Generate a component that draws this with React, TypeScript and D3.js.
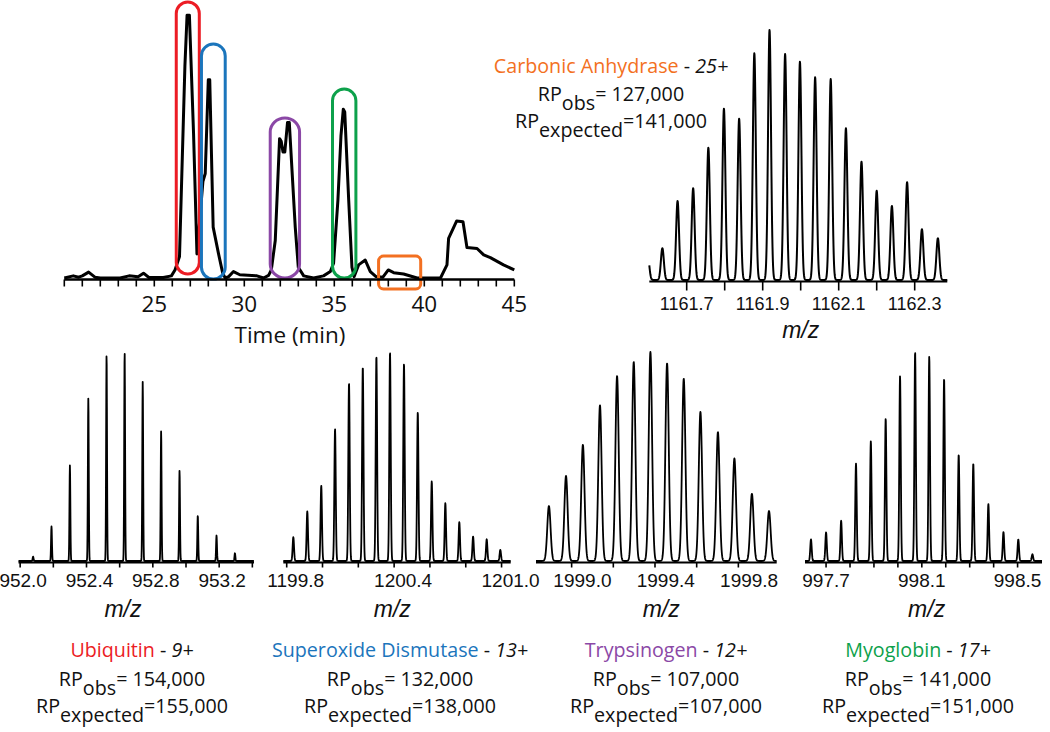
import React from 'react';
import * as d3 from 'd3';

// ---------- Chromatogram (time in min, relative intensity) ----------
const chromTime = [20.0, 20.5, 20.8, 21.0, 21.35, 21.7, 22.0, 23.1, 23.6, 24.1, 24.4, 24.7, 25.5, 25.95, 26.15, 26.4, 26.7, 26.82, 26.95, 27.18, 27.37, 27.7, 27.83, 28.0, 28.08, 28.27, 28.57, 28.8, 28.94, 29.13, 29.4, 29.75, 30.7, 31.07, 31.35, 31.5, 31.72, 31.96, 32.05, 32.15, 32.25, 32.4, 32.5, 32.83, 33.0, 33.3, 33.85, 34.4, 34.78, 34.96, 35.2, 35.37, 35.5, 35.58, 35.8, 35.98, 36.1, 36.35, 36.72, 37.0, 37.3, 37.7, 38.0, 38.3, 38.85, 39.6, 40.9, 41.26, 41.35, 41.8, 42.15, 42.37, 42.93, 43.3, 43.67, 44.4, 45.0];
const chromIntensity = [0, 0.8, 0.3, 0.8, 2.2, 0.3, 0, 0, 0.8, 0.5, 1.8, 0.2, 0.2, 0.8, 3, 8, 79, 98, 98, 54, 9, 36, 39, 74, 74, 19, 9, 1.8, 0, 0.5, 2.4, 1.2, 0.8, 0, 1, 3, 14, 52, 51, 47, 47, 58, 58, 19, 4, 0.8, 0, 0.8, 2.4, 5.5, 29, 53, 63, 62, 29, 4, 0.5, 4.9, 6.7, 2.4, 0.6, 0.3, 3, 2, 1.5, 0, 0, 4.9, 14.8, 21.3, 21, 11.4, 11, 8.6, 7.6, 4.9, 3];
const chromMinorTicks = [20, 21, 22, 23, 24, 25, 26, 27, 28, 29, 30, 31, 32, 33, 34, 35, 36, 37, 38, 39, 40, 41, 42, 43, 44, 45];
const chromLabels = [25, 30, 35, 40, 45];

// highlight boxes: time window and intensity window
const boxNames = ['Ubiquitin', 'Superoxide Dismutase', 'Trypsinogen', 'Myoglobin', 'Carbonic Anhydrase'];
const boxColors = ['#ec1c24', '#1b75bc', '#8b48a6', '#0da14b', '#f37021'];
const boxT0 = [26.22, 27.62, 31.44, 34.9, 37.46];
const boxT1 = [27.5, 28.94, 33.07, 36.2, 39.8];
const boxTop = [103, 87.3, 59.7, 70.5, 8.2];
const boxBottom = [1.5, -0.4, 0, 0, -4.1];

// ---------- Spectra: peak centroids (m/z) and relative heights ----------
const ubqMz = [952.078, 952.189, 952.300, 952.411, 952.521, 952.630, 952.739, 952.850, 952.961, 953.071, 953.184, 953.295];
const ubqInt = [2.1, 16.5, 45.7, 77.8, 98.9, 100, 85.8, 62.1, 43.3, 21.8, 12.2, 3.7];
const ubqTicks = [952.0, 952.2, 952.4, 952.6, 952.8, 953.0, 953.2, 953.4];
const ubqLabels = ['952.0', '952.4', '952.8', '953.2'];

const sodMz = [1199.837, 1199.915, 1199.993, 1200.070, 1200.148, 1200.225, 1200.301, 1200.377, 1200.455, 1200.532, 1200.610, 1200.686, 1200.764, 1200.841, 1200.917, 1200.993];
const sodInt = [11.4, 23.7, 36.0, 63.2, 85.3, 93.0, 98.1, 100, 94.6, 71.2, 38.1, 27.7, 18.6, 11.7, 10.4, 5.3];
const sodTicks = [1199.8, 1200.0, 1200.2, 1200.4, 1200.6, 1200.8, 1201.0];
const sodLabels = ['1199.8', '1200.4', '1201.0'];

const trpMz = [1998.891, 1998.973, 1999.054, 1999.136, 1999.218, 1999.298, 1999.378, 1999.458, 1999.538, 1999.618, 1999.702, 1999.781, 1999.865, 1999.947];
const trpInt = [26.3, 40.7, 55.6, 74.5, 88.5, 95.2, 100, 94.6, 87.2, 71.3, 61.7, 49.1, 32.2, 23.9];
const trpTicks = [1999.0, 1999.2, 1999.4, 1999.6, 1999.8];
const trpLabels = ['1999.0', '1999.4', '1999.8'];

const myoMz = [997.637, 997.700, 997.763, 997.825, 997.887, 997.949, 998.009, 998.072, 998.131, 998.193, 998.254, 998.315, 998.378, 998.441, 998.503, 998.562];
const myoInt = [10.3, 13.7, 19.3, 46.6, 57.3, 68.2, 88.5, 100, 97.8, 87.3, 50.9, 46.6, 27.2, 13.9, 10.3, 3.2];
const myoTicks = [997.7, 997.8, 997.9, 998.0, 998.1, 998.2, 998.3, 998.4, 998.5];
const myoLabels = ['997.7', '998.1', '998.5'];

const canMz = [1161.598, 1161.636, 1161.676, 1161.717, 1161.757, 1161.798, 1161.838, 1161.878, 1161.918, 1161.959, 1161.998, 1162.038, 1162.079, 1162.119, 1162.160, 1162.200, 1162.240, 1162.280, 1162.319, 1162.361];
const canInt = [9, 12.7, 31.6, 36.7, 52.9, 68.5, 64.5, 90.7, 100, 90.4, 87.3, 81.1, 80.4, 60.7, 47.3, 35.7, 29.6, 39.1, 20.3, 16.7];
const canTicks = [1161.7, 1161.8, 1161.9, 1162.0, 1162.1, 1162.2, 1162.3];
const canLabels = ['1161.7', '1161.9', '1162.1', '1162.3'];

// ---------- Captions ----------
const charges = ['9+', '13+', '12+', '17+', '25+'];
const rpObs = [154000, 132000, 107000, 141000, 127000];
const rpExpected = [155000, 138000, 107000, 151000, 141000];

const CAP_FONT = "'Open Sans', 'Noto Sans', sans-serif";
const AX_FONT = "'Liberation Sans', Arial, sans-serif";
const fmt = d3.format(',');

type Panel = {
  mz: number[]; inten: number[]; rp: number; domain: [number, number]; range: [number, number];
  yBase: number; yTop: number; ticks: number[]; labels: string[]; labelDx: number; tickLen: number;
  fontSize: number; labelBaseline: number; mzAt: number; mzBaseline: number; mzSize: number; sw: number;
};

function Spectrum({ p }: { p: Panel }) {
  const x = d3.scaleLinear().domain(p.domain).range(p.range);
  const y = d3.scaleLinear().domain([0, 100]).range([p.yBase, p.yTop]);
  const sigma = ((d3.mean(p.mz) as number) / p.rp) / 2.3548;
  const pts: [number, number][] = [];
  for (let px = p.range[0]; px <= p.range[1] + 0.001; px += 0.2) {
    const m = x.invert(px);
    let s = 0;
    p.mz.forEach((c, i) => {
      const d = (m - c) / sigma;
      if (Math.abs(d) < 7) s += p.inten[i] * Math.exp(-0.5 * d * d);
    });
    pts.push([m, s]);
  }
  const line = d3.line<[number, number]>().x(d => x(d[0])).y(d => y(d[1]));
  const yAxis = p.yBase + 1.5;
  return (
    <g>
      <path d={line(pts) || ''} fill="none" stroke="#000" strokeWidth={p.sw} strokeLinejoin="round" />
      <line x1={p.range[0]} x2={p.range[1]} y1={yAxis} y2={yAxis} stroke="#000" strokeWidth={2} />
      {p.ticks.map((t, i) => (
        <line key={i} x1={x(t)} x2={x(t)} y1={yAxis} y2={yAxis + p.tickLen} stroke="#000" strokeWidth={1.6} />
      ))}
      {p.labels.map((l, i) => (
        <text key={i} x={x(+l) + p.labelDx} y={p.labelBaseline} textAnchor="middle"
          fontFamily={AX_FONT} fontSize={p.fontSize} fill="#111">{l}</text>
      ))}
      <text x={x(p.mzAt)} y={p.mzBaseline} textAnchor="middle" fontFamily={AX_FONT}
        fontStyle="italic" fontSize={p.mzSize} fill="#111">m/z</text>
    </g>
  );
}

function Caption({ cx, y0, idx }: { cx: number; y0: number; idx: number }) {
  const fs = 19.7;
  return (
    <g fontFamily={CAP_FONT} fontSize={fs} fill="#111">
      <text x={cx} y={y0} textAnchor="middle">
        <tspan fill={boxColors[idx]}>{boxNames[idx]}</tspan>
        <tspan> - </tspan>
        <tspan fontStyle="italic">{charges[idx]}</tspan>
      </text>
      <text x={cx} y={y0 + 28.5} textAnchor="middle">
        <tspan>RP</tspan>
        <tspan dy={9}>obs</tspan>
        <tspan dy={-9}>{'= ' + fmt(rpObs[idx])}</tspan>
      </text>
      <text x={cx} y={y0 + 55.5} textAnchor="middle">
        <tspan>RP</tspan>
        <tspan dy={9}>expected</tspan>
        <tspan dy={-9}>{'=' + fmt(rpExpected[idx])}</tspan>
      </text>
    </g>
  );
}

function Chromatogram() {
  const x = d3.scaleLinear().domain([20, 45]).range([64.3, 514.3]);
  const y = d3.scaleLinear().domain([0, 100]).range([278, 10]);
  const data = chromTime.map((t, i) => [t, chromIntensity[i]] as [number, number]);
  const line = d3.line<[number, number]>().x(d => x(d[0])).y(d => y(d[1]));
  const yAxis = 279.5;
  return (
    <g>
      <path d={line(data) || ''} fill="none" stroke="#000" strokeWidth={3} strokeLinejoin="round" />
      {boxNames.map((n, i) => {
        const x0 = x(boxT0[i]);
        const x1 = x(boxT1[i]);
        const y0 = y(boxTop[i]);
        const y1 = y(boxBottom[i]);
        const w = x1 - x0;
        const rx = i === 4 ? 5 : w / 2;
        return <rect key={n} x={x0} y={y0} width={w} height={y1 - y0} rx={rx} ry={i === 4 ? 5 : Math.min(rx, 14)}
          fill="none" stroke={boxColors[i]} strokeWidth={3} />;
      })}
      <line x1={x(20)} x2={x(45)} y1={yAxis} y2={yAxis} stroke="#000" strokeWidth={2.5} />
      {chromMinorTicks.map(t => (
        <line key={t} x1={x(t)} x2={x(t)} y1={yAxis} y2={yAxis + 7} stroke="#000" strokeWidth={1.6} />
      ))}
      {chromLabels.map(t => (
        <text key={t} x={x(t)} y={311.5} textAnchor="middle" fontFamily={CAP_FONT} fontSize={22.5} fill="#111">{t}</text>
      ))}
      <text x={290} y={343} textAnchor="middle" fontFamily={CAP_FONT} fontSize={22.5} fill="#111">Time (min)</text>
    </g>
  );
}

export default function App() {
  const bottomBase = 561;
  const bottomTop = 352;
  const panels: Panel[] = [
    { mz: ubqMz, inten: ubqInt, rp: rpObs[0], domain: [951.99, 953.41], range: [18.5, 254], yBase: bottomBase, yTop: bottomTop,
      ticks: ubqTicks, labels: ubqLabels, labelDx: 3, tickLen: 5, fontSize: 19, labelBaseline: 587, mzAt: 952.62, mzBaseline: 617, mzSize: 23, sw: 1.8 },
    { mz: sodMz, inten: sodInt, rp: rpObs[1], domain: [1199.781, 1201.051], range: [283.3, 510.7], yBase: bottomBase, yTop: bottomTop,
      ticks: sodTicks, labels: sodLabels, labelDx: 9, tickLen: 5, fontSize: 19, labelBaseline: 587, mzAt: 1200.39, mzBaseline: 617, mzSize: 23, sw: 1.8 },
    { mz: trpMz, inten: trpInt, rp: rpObs[2], domain: [1998.829, 1999.984], range: [536, 776.7], yBase: bottomBase, yTop: bottomTop,
      ticks: trpTicks, labels: trpLabels, labelDx: 10.8, tickLen: 5, fontSize: 19, labelBaseline: 587, mzAt: 1999.43, mzBaseline: 617, mzSize: 23, sw: 1.8 },
    { mz: myoMz, inten: myoInt, rp: rpObs[3], domain: [997.612, 998.602], range: [805, 1042], yBase: bottomBase, yTop: bottomTop,
      ticks: myoTicks, labels: myoLabels, labelDx: 0, tickLen: 5, fontSize: 19, labelBaseline: 587, mzAt: 998.12, mzBaseline: 617, mzSize: 23, sw: 1.8 },
    { mz: canMz, inten: canInt, rp: rpObs[4], domain: [1161.6016, 1162.3858], range: [649.3, 947.3], yBase: 280, yTop: 30,
      ticks: canTicks, labels: canLabels, labelDx: 0, tickLen: 9, fontSize: 18, labelBaseline: 310, mzAt: 1162.0, mzBaseline: 338, mzSize: 23, sw: 2 },
  ];
  return (
    <svg width={1050} height={732} viewBox="0 0 1050 732"
      style={{ position: 'absolute', left: 0, top: 0, background: '#fff' }}>
      <rect x={0} y={0} width={1050} height={732} fill="#fff" />
      <Chromatogram />
      {panels.map((p, i) => <Spectrum key={i} p={p} />)}
      <Caption cx={611} y0={72.5} idx={4} />
      <Caption cx={132} y0={657} idx={0} />
      <Caption cx={400} y0={657} idx={1} />
      <Caption cx={666} y0={657} idx={2} />
      <Caption cx={918} y0={657} idx={3} />
    </svg>
  );
}
